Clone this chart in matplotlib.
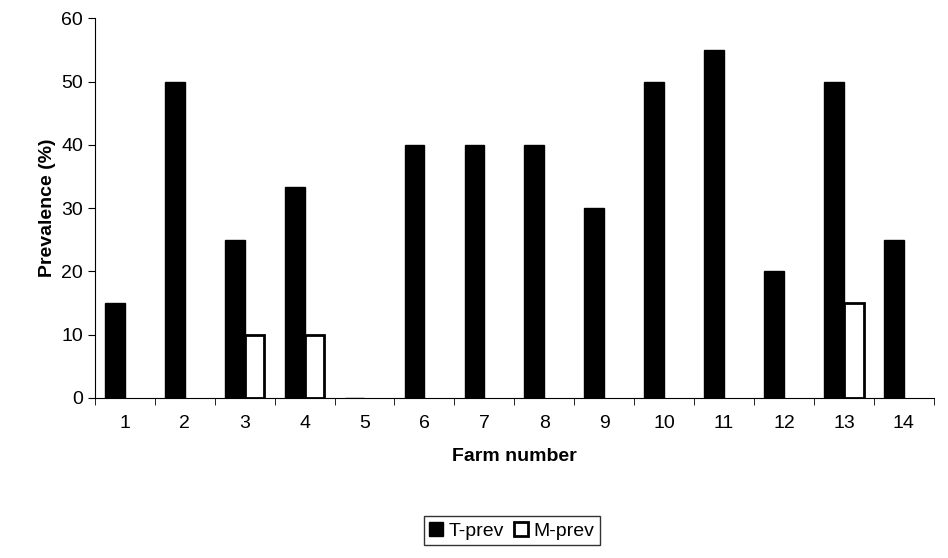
import numpy as np
import matplotlib.pyplot as plt

plt.rcParams['font.family'] = ['Liberation Sans', 'DejaVu Sans']

farms = np.arange(1, 15)
t_prev = [15, 50, 25, 33.3, 0, 40, 40, 40, 30, 50, 55, 20, 50, 25]
m_prev = [0, 0, 10, 10, 0, 0, 0, 0, 0, 0, 0, 0, 15, 0]

fig = plt.figure(figsize=(9.48, 5.58), dpi=100)
ax = fig.add_axes([0.1, 0.287, 0.885, 0.68])

w = 0.33
ax.bar(farms - w / 2, t_prev, w, color='black', edgecolor='black', label='T-prev')
mp = np.array(m_prev, dtype=float)
mask = mp > 0
ax.bar(farms[mask] + w / 2, mp[mask], w, color='white', edgecolor='black', linewidth=2, label='M-prev')

ax.set_xlim(0.5, 14.5)
ax.set_ylim(0, 60)
ax.set_yticks(range(0, 61, 10))
ax.set_xticks(farms)
ax.set_xticks(np.arange(0.5, 15, 1), minor=True)
ax.tick_params(axis='x', which='major', length=0, pad=12, labelsize=14)
ax.tick_params(axis='x', which='minor', length=5, direction='out')
ax.tick_params(axis='y', labelsize=14, direction='out', length=5)
for s in ['top', 'right']:
    ax.spines[s].set_visible(False)

ax.set_xlabel('Farm number', fontsize=14, fontweight='bold', labelpad=12)
ax.set_ylabel('Prevalence (%)', fontsize=14, fontweight='bold')

leg = fig.legend(loc='lower center', bbox_to_anchor=(0.54, 0.005), ncol=2, fontsize=14,
                 frameon=True, fancybox=False, edgecolor='black', handlelength=0.7,
                 handletextpad=0.3, columnspacing=0.5, borderpad=0.3)

fig.savefig('out.png', dpi=100)
